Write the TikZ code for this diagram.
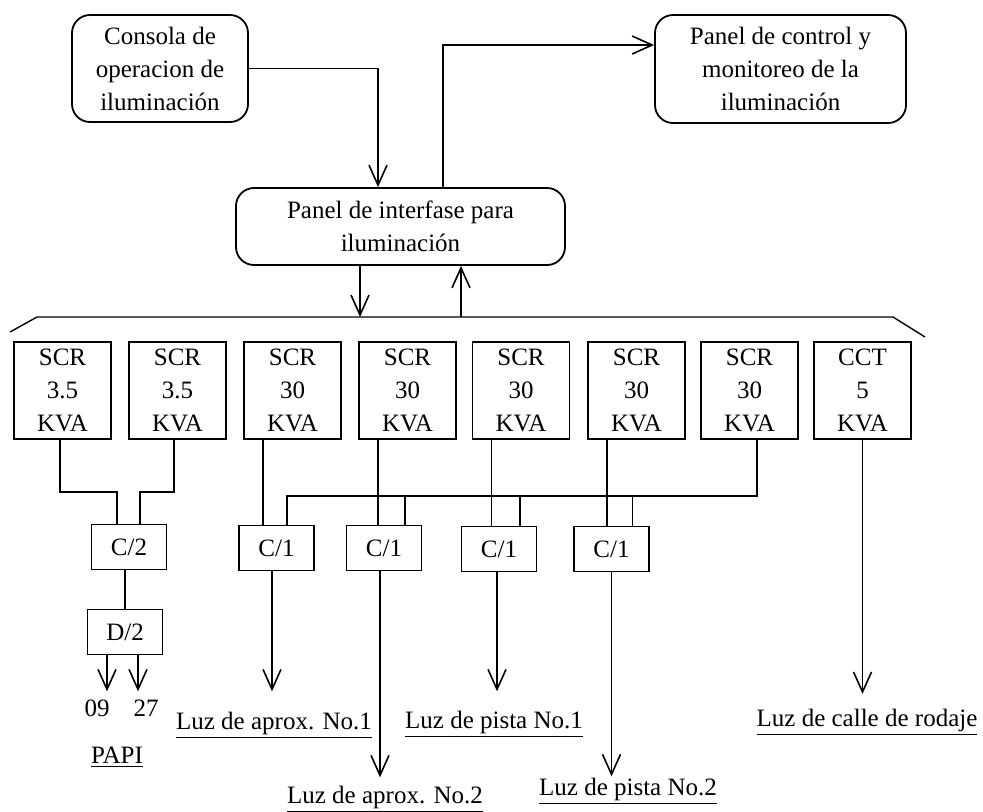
\documentclass[tikz,border=0pt]{standalone}
\usepackage{fontspec}
\setmainfont{Liberation Serif}
\usetikzlibrary{arrows.meta}
\tikzset{rbox/.style = {draw, rounded corners=9pt, align=center, inner sep=0, line width=0.9pt}}
\tikzset{sbox/.style = {draw, align=center, minimum width=48.5pt, minimum height=48.5pt, inner sep=0, line width=0.9pt}}
\tikzset{cbox/.style = {draw, minimum width=37.5pt, minimum height=22.5pt, inner sep=0, line width=0.8pt}}
\tikzset{flecha/.style = {-{Straight Barb[length=10pt,width=9pt]}, line width=0.8pt}}

\begin{document}
\begin{tikzpicture}[x=0.5pt,y=-0.5pt,font=\fontsize{12.5pt}{16.5pt}\selectfont,line width=0.7pt]
        \useasboundingbox (0,0) rectangle (983,811);
        % paneles
        \node [rbox, minimum width=88pt, minimum height=53.5pt] (consola) at (160,68.5) {Consola de\\operacion de\\iluminación};
        \node [rbox, minimum width=125.5pt, minimum height=54pt] (control) at (780.5,69) {Panel de control y\\monitoreo de la\\iluminación};
        \node [rbox, minimum width=164.5pt, minimum height=38.5pt] (interfaz) at (400.5,226.5) {Panel de interfase para\\iluminación};
        \draw [flecha] (consola.east) -| ([xshift=-11.25pt]interfaz.north);
        \draw [flecha] ([xshift=21.25pt]interfaz.north) |- ([yshift=12pt]control.west);
        % barra
        \coordinate (bl) at (37,317);
        \coordinate (br) at (893,317);
        \draw (10,332) -- (bl) -- (br) -- (925,337);
        \draw [flecha] ([xshift=-20.25pt]interfaz.south) coordinate (a1) -- (a1 |- bl);
        \draw [flecha] ([xshift=30.25pt]interfaz.south |- bl) coordinate (a2) -- ([xshift=30.25pt]interfaz.south);
        % reguladores
        \foreach \n/\x/\t in {1/62.5/{SCR\\3.5\\KVA}, 2/177.5/{SCR\\3.5\\KVA}, 3/292.5/{SCR\\30\\KVA}, 4/407.5/{SCR\\30\\KVA}, 5/521/{SCR\\30\\KVA}, 6/636.5/{SCR\\30\\KVA}, 7/749.5/{SCR\\30\\KVA}, 8/862.5/{CCT\\5\\KVA}}
            \node [sbox] (s\n) at (\x,390.5) {\t};
        \node [cbox] (c2) at (129,547) {C/2};
        \node [cbox] (d2) at (125,632) {D/2};
        \node [cbox] (k1) at (276.5,548) {C/1};
        \node [cbox] (k2) at (384,548) {C/1};
        \node [cbox] (k3) at (499,549) {C/1};
        \node [cbox] (k4) at (611.5,549) {C/1};
        % PAPI
        \draw ([xshift=-1.25pt]s1.south) -- ++(0,52) -| ([xshift=-6pt]c2.north);
        \draw ([xshift=-1.75pt]s2.south) -- ++(0,52) -| ([xshift=5.5pt]c2.north);
        \draw (d2.north |- c2.south) -- (d2.north);
        \draw [flecha] ([xshift=-9pt]d2.south) -- ++(0,36);
        \draw [flecha] ([xshift=6.5pt]d2.south) -- ++(0,36);
        % SCR 30 KVA
        \foreach \s/\k in {3/1,4/2,5/3,6/4}
            \draw ([xshift=-14.75pt]s\s.south) coordinate (w) -- (w |- k\k.north);
        \draw ([xshift=3.75pt]s7.south) -- ++(0,56) -| ([xshift=5.25pt]k1.north);
        \foreach \k in {2,3,4}
            \draw ([xshift=10.5pt]k\k.north) -- ++(0,-30);
        \draw [flecha] ([xshift=-2.25pt]k1.south) -- ++(0,120);
        \draw [flecha] ([xshift=-2pt]k2.south) -- ++(0,206);
        \draw [flecha] ([xshift=-1pt]k3.south) -- ++(0,119);
        \draw [flecha] (k4.south) -- ++(0,204);
        \draw [flecha] (s8.south) -- ++(0,254);
        % salidas
        \node (n09) at (97,708) {09};
        \node (n27) at (146,708) {27};
        \node (papi) at (117,757) {\underline{PAPI}};
        \node (aprox1) at (274,725) {\underline{Luz de aprox. No.1}};
        \node (aprox2) at (385,799) {\underline{Luz de aprox. No.2}};
        \node (pista1) at (494,724) {\underline{Luz de pista No.1}};
        \node (pista2) at (628,791) {\underline{Luz de pista No.2}};
        \node (rodaje) at (867,722) {\underline{Luz de calle de rodaje}};
    \end{tikzpicture}
\end{document}
